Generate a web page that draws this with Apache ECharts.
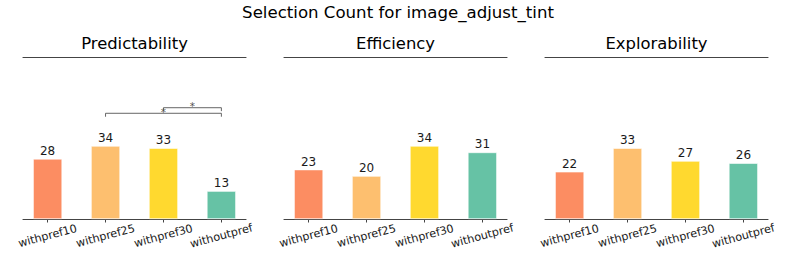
<!DOCTYPE html>
<html>
<head>
<meta charset="utf-8">
<script src="https://cdn.jsdelivr.net/npm/echarts@6/dist/echarts.min.js"></script>
<style>html,body{margin:0;padding:0;background:#fff}#c{width:793px;height:264px}</style>
</head>
<body>
<div id="c"></div>
<script>
const mainTitle = 'Selection Count for image_adjust_tint';
const panelTitles = ['Predictability', 'Efficiency', 'Explorability'];
const categories = ['withpref10', 'withpref25', 'withpref30', 'withoutpref'];
const predictability = [28, 34, 33, 13];
const efficiency = [23, 20, 34, 31];
const explorability = [22, 33, 27, 26];
const barColors = ['#FC8D62', '#FDBF6F', '#FFD92F', '#66C2A5'];
// significance brackets for Predictability panel: [fromIndex, toIndex]
const sigPairs = [[1, 3], [2, 3]];
const sigHeights = [49.2, 51.8];
const sigLabels = ['*', '*'];

const panels = [predictability, efficiency, explorability];
const FONT = 'DejaVu Sans';
const gridLefts = [23, 284, 545];
const gridW = 223;
const xMin = -0.425, xMax = 3.425, yMax = 75.4;
const tickDrop = 1.6;

const grids = [], xAxes = [], yAxes = [], series = [];
panels.forEach((vals, i) => {
  grids.push({ left: gridLefts[i], top: 57, width: gridW, height: 162 });
  xAxes.push({
    type: 'value', gridIndex: i, min: xMin, max: xMax, position: 'bottom',
    axisLine: { show: true, onZero: false, lineStyle: { color: '#444', width: 1.1 } },
    axisTick: { show: true, customValues: [0, 1, 2, 3], length: 3.5, lineStyle: { color: '#444' } },
    axisLabel: {
      show: true, customValues: [0, 1, 2, 3], formatter: v => categories[Math.round(v)],
      rotate: 15, fontSize: 11.2, fontFamily: FONT, color: '#1a1a1a', margin: 17, align: 'center', verticalAlign: 'middle'
    },
    splitLine: { show: false }
  });
  xAxes.push({
    type: 'value', gridIndex: i, min: xMin, max: xMax, position: 'top',
    axisLine: { show: true, onZero: false, lineStyle: { color: '#444', width: 1.1 } },
    axisTick: { show: false }, axisLabel: { show: false }, splitLine: { show: false }
  });
  yAxes.push({ type: 'value', gridIndex: i, min: 0, max: yMax, show: false, splitLine: { show: false } });
  series.push({
    type: 'bar', xAxisIndex: i * 2, yAxisIndex: i, barWidth: 29,
    data: vals.map((v, k) => ({ value: [k, v], itemStyle: { color: barColors[k], borderColor: '#fff', borderWidth: 0.6 } })),
    label: { show: true, position: 'top', distance: 2, fontSize: 12, fontFamily: FONT, color: '#1a1a1a', formatter: p => p.value[1] }
  });
});

sigPairs.forEach((pr, j) => {
  const h = sigHeights[j];
  series.push({
    type: 'line', xAxisIndex: 0, yAxisIndex: 0, symbol: 'none', silent: true,
    lineStyle: { color: '#555', width: 0.9 },
    data: [[pr[0], h - tickDrop], [pr[0], h], [pr[1], h], [pr[1], h - tickDrop]]
  });
  series.push({
    type: 'scatter', xAxisIndex: 0, yAxisIndex: 0, symbolSize: 0, silent: true,
    data: [[(pr[0] + pr[1]) / 2, h]],
    label: { show: true, position: 'inside', offset: [0, -1.5], formatter: sigLabels[j], fontSize: 10.5, fontFamily: FONT, color: '#222' }
  });
});

const graphics = [{
  type: 'text', x: 398, y: 12,
  style: { text: mainTitle, fontSize: 16.6, fontFamily: FONT, fill: '#000', textAlign: 'center', textVerticalAlign: 'middle' }
}];
panelTitles.forEach((t, i) => graphics.push({
  type: 'text', x: gridLefts[i] + gridW / 2, y: 43,
  style: { text: t, fontSize: 16.4, fontFamily: FONT, fill: '#000', textAlign: 'center', textVerticalAlign: 'middle' }
}));

const chart = echarts.init(document.getElementById('c'), null, { renderer: 'svg' });
chart.setOption({
  animation: false,
  backgroundColor: '#fff',
  grid: grids, xAxis: xAxes, yAxis: yAxes, series: series, graphic: graphics
});
</script>
</body>
</html>
